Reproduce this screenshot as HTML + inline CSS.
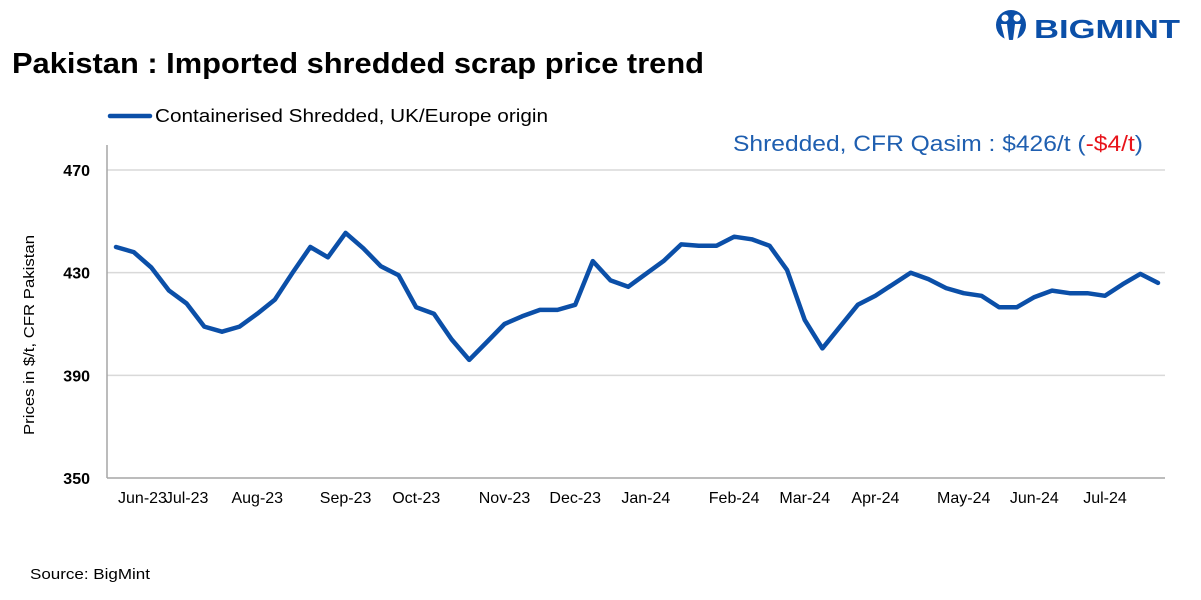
<!DOCTYPE html>
<html><head><meta charset="utf-8"><style>
body{margin:0;background:#fff;width:1201px;height:600px;overflow:hidden;font-family:"Liberation Sans",sans-serif}
svg{display:block}
</style></head><body>
<svg id="chart" width="1201" height="600" xmlns="http://www.w3.org/2000/svg">
  <g>
    <circle cx="1011" cy="25" r="15" fill="#0b4fa8"/>
    <circle cx="1005" cy="18" r="3.5" fill="#fff"/>
    <circle cx="1017" cy="18" r="3.5" fill="#fff"/>
    <path d="M1001 24 L1007 24 L1009 40 L1005 40 Z M1015 24 L1021 24 L1017 40 L1013 40 Z" fill="#fff"/>
    <text x="1034" y="38" font-size="26" font-weight="bold" fill="#0b4fa8" textLength="146" lengthAdjust="spacingAndGlyphs">BIGMINT</text>
  </g>
  <text x="12" y="73" font-size="28.5" font-weight="bold" fill="#000" textLength="692" lengthAdjust="spacingAndGlyphs">Pakistan : Imported shredded scrap price trend</text>
  <g>
    <line x1="110" y1="116" x2="150" y2="116" stroke="#0b4fa8" stroke-width="4.5" stroke-linecap="round"/>
    <text x="155" y="122" font-size="18" fill="#000" textLength="393" lengthAdjust="spacingAndGlyphs">Containerised Shredded, UK/Europe origin</text>
  </g>
  <text x="733" y="151" font-size="22.5" fill="#1f5fb0" textLength="410" lengthAdjust="spacingAndGlyphs">Shredded, CFR Qasim : $426/t (<tspan fill="#e8141b">-$4/t</tspan>)</text>
  <g id="grid"></g>
  <line x1="107" y1="145" x2="107" y2="478" stroke="#a6a6a6" stroke-width="1.5"/>
  <g id="yticks"></g>
  <g id="xticks"></g>
  <path id="series" fill="none" stroke="#0b4fa8" stroke-width="4.5" stroke-linejoin="round" stroke-linecap="round"/>
  <text transform="translate(34,335) rotate(-90)" font-size="14.5" text-anchor="middle" fill="#000" textLength="200" lengthAdjust="spacingAndGlyphs">Prices in $/t, CFR Pakistan</text>
  <text x="30" y="579" font-size="15" fill="#000" textLength="120" lengthAdjust="spacingAndGlyphs">Source: BigMint</text>
</svg>
<script>
const values=[440,438,432,423,418,409,407,409,414,419.5,430,440,436,445.5,439.5,432.5,429,416.5,414,404,396,403,410,413,415.5,415.5,417.5,434.5,427,424.5,429.5,434.5,441,440.5,440.5,444,443,440.5,431,411.5,400.5,409,417.5,421,425.5,430,427.5,424,422,421,416.5,416.5,420.5,423,422,422,421,425.5,429.5,426];
const yTicks=[350,390,430,470];
const monthLabels=["Jun-23","Jul-23","Aug-23","Sep-23","Oct-23","Nov-23","Dec-23","Jan-24","Feb-24","Mar-24","Apr-24","May-24","Jun-24","Jul-24"];
const monthLabelIdx=[1.5,4,8,13,17,22,26,30,35,39,43,48,52,56];
const NS="http://www.w3.org/2000/svg";
const x0=116,x1=1158,yTop=170,yBot=478,vMin=350,vMax=470;
function xs(i){return x0+i*(x1-x0)/(values.length-1);}
function ys(v){return yBot-(v-vMin)*(yBot-yTop)/(vMax-vMin);}
const grid=document.getElementById('grid'),yt=document.getElementById('yticks'),xt=document.getElementById('xticks');
yTicks.forEach(t=>{
  const l=document.createElementNS(NS,'line');
  l.setAttribute('x1',107);l.setAttribute('x2',1165);
  l.setAttribute('y1',ys(t));l.setAttribute('y2',ys(t));
  l.setAttribute('stroke',t===vMin?'#a6a6a6':'#d9d9d9');l.setAttribute('stroke-width',1.5);
  
  
  grid.appendChild(l);
  const tx=document.createElementNS(NS,'text');
  tx.setAttribute('x',90);tx.setAttribute('y',ys(t)+6);
  tx.setAttribute('text-anchor','end');tx.setAttribute('font-size','16');tx.setAttribute('font-weight','bold');
  tx.textContent=t;
  
  
  yt.appendChild(tx);
});
monthLabels.forEach((m,k)=>{
  const tx=document.createElementNS(NS,'text');
  tx.setAttribute('x',xs(monthLabelIdx[k]));tx.setAttribute('y',503);
  tx.setAttribute('text-anchor','middle');tx.setAttribute('font-size','16');
  tx.textContent=m;
  
  
  xt.appendChild(tx);
});
document.getElementById('series').setAttribute('d',values.map((v,i)=>(i?'L':'M')+xs(i).toFixed(1)+' '+ys(v).toFixed(1)).join(' '));
</script>
</body></html>
